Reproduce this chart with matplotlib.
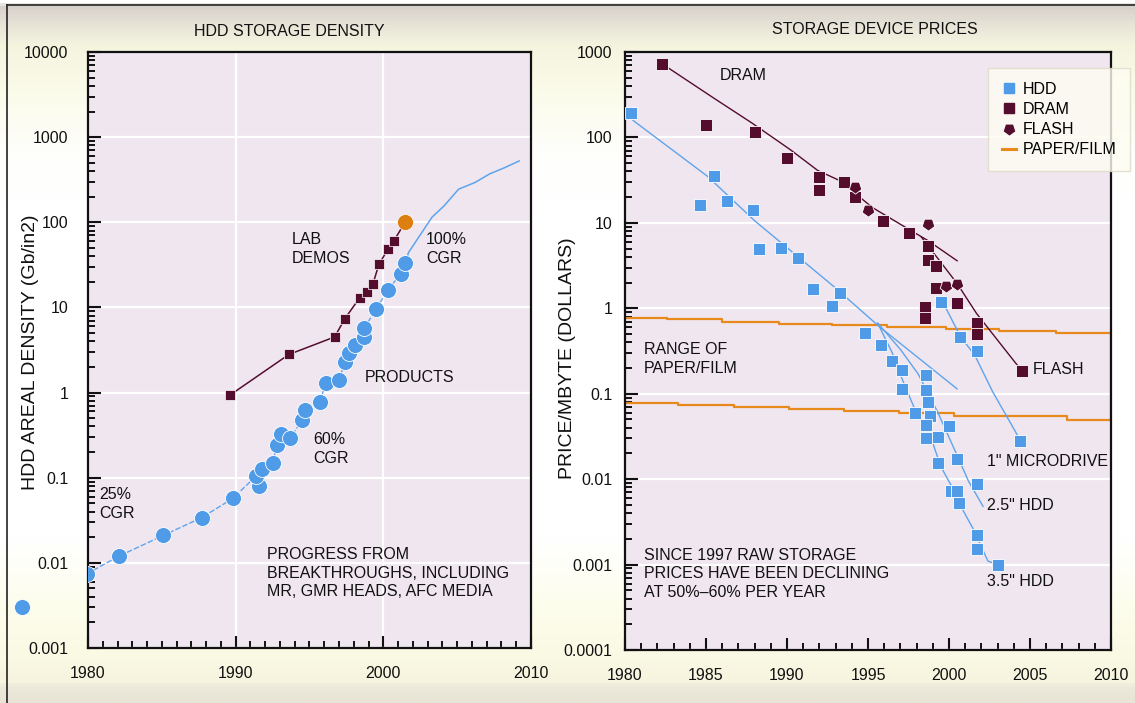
import numpy as np
import matplotlib
matplotlib.use("Agg")
import matplotlib.pyplot as plt
from matplotlib import font_manager as fm
from matplotlib.ticker import FixedLocator, NullFormatter, LogLocator
from matplotlib.colors import LinearSegmentedColormap
from matplotlib.lines import Line2D

# ---------------- data: left panel (HDD storage density) ----------------
prod_year = [1979.9, 1982.1, 1985.1, 1987.7, 1989.8, 1991.6, 1991.4, 1991.8, 1992.5,
             1992.8, 1993.1, 1993.7, 1994.5, 1994.7, 1995.7, 1996.1, 1997.0, 1997.4,
             1997.7, 1998.1, 1998.7, 1998.7, 1999.5, 2000.3, 2001.2, 2001.5]
prod_val = [0.0074, 0.012, 0.021, 0.034, 0.057, 0.079, 0.105, 0.126, 0.15,
            0.24, 0.33, 0.29, 0.48, 0.62, 0.77, 1.3, 1.4, 2.3,
            2.9, 3.6, 4.5, 5.7, 9.5, 16, 25, 33]
proj_year = [2001.5, 2001.7, 2003.3, 2004.1, 2005.1, 2006.2, 2007.2, 2008.2, 2009.2]
proj_val = [33, 44, 115, 155, 245, 293, 370, 437, 525]
early_year = [1975.5]
early_val = [0.0030]
lab_year = [1989.6, 1993.6, 1996.7, 1997.4, 1998.4, 1998.9, 1999.3, 1999.7, 2000.3, 2000.7]
lab_val = [0.93, 2.8, 4.5, 7.4, 13, 15, 19, 32, 48, 60]
lab_best_year = [2001.5]
lab_best_val = [102]

# ---------------- data: right panel (storage device prices) ----------------
hdd_year = [1980.4, 1984.6, 1985.5, 1986.3, 1987.9, 1988.3, 1989.6, 1990.7, 1991.6,
            1992.8, 1993.3, 1994.8, 1995.8, 1999.5, 2000.7, 2001.7,
            1996.5, 1997.1, 1997.1, 1997.9, 1998.6, 1998.6, 1998.7, 1998.8, 1998.6,
            1998.6, 1999.3, 1999.3, 2000.0, 2000.1, 2000.5, 2000.6, 2000.5, 2001.7,
            2001.7, 2001.7, 2003.0, 2004.4]
hdd_val = [192, 16, 35, 18, 14, 4.9, 5.1, 3.9, 1.66,
           1.07, 1.5, 0.51, 0.37, 1.2, 0.46, 0.32,
           0.24, 0.19, 0.114, 0.059, 0.166, 0.11, 0.080, 0.055, 0.043,
           0.030, 0.031, 0.0155, 0.042, 0.0072, 0.0072, 0.0052, 0.017, 0.0087,
           0.0022, 0.00154, 0.0010, 0.028]
dram_year = [1982.3, 1985.0, 1988.0, 1990.0, 1992.0, 1992.0, 1993.5, 1994.2, 1995.9,
             1997.5, 1998.7, 1998.7, 1999.2, 1999.2, 1998.5, 1998.5, 2000.5, 2001.7,
             2001.7, 2004.5]
dram_val = [718, 138, 116, 57, 34, 24, 30, 20, 10.6,
            7.7, 5.3, 3.7, 3.1, 1.74, 1.03, 0.76, 1.14, 0.68,
            0.50, 0.186]
flash_year = [1994.2, 1995.0, 1998.7, 1999.8, 2000.5]
flash_val = [26, 14, 9.6, 1.8, 1.9]

hdd_trend_year = [1980.5, 1985.1, 1988.0, 1992.9, 1995.7, 2000.5]
hdd_trend_val = [158, 35, 10.6, 1.79, 0.61, 0.114]
hdd35_year = [1995.6, 1996.5, 1997.1, 1997.9, 1998.9, 1999.5, 2000.2, 2000.9, 2001.5, 2002.4, 2003.0]
hdd35_val = [0.67, 0.30, 0.15, 0.065, 0.03, 0.014, 0.008, 0.0042, 0.0026, 0.0011, 0.0010]
hdd25_year = [1995.6, 1997.0, 1998.1, 1999.3, 2000.5, 2001.2, 2002.1]
hdd25_val = [0.67, 0.33, 0.17, 0.061, 0.019, 0.0095, 0.0048]
micro_year = [1999.6, 2000.7, 2001.6, 2002.7, 2004.1, 2004.4]
micro_val = [1.2, 0.47, 0.28, 0.105, 0.036, 0.028]
dram_trend_year = [1982.6, 1985.5, 1987.8, 1990.2, 1991.9, 1993.2, 1995.3, 1997.3, 1998.7, 2000.5]
dram_trend_val = [665, 287, 149, 72, 41, 31.6, 15, 8.9, 6.2, 3.6]
flash_trend_year = [1998.3, 2000.5, 2001.7, 2004.1, 2004.5]
flash_trend_val = [6.8, 1.95, 0.87, 0.23, 0.186]

paper_hi_year = [1980, 1982.6, 1986.0, 1989.5, 1992.8, 1996.2, 1999.8, 2003.1, 2006.6, 2010]
paper_hi_val = [0.78, 0.74, 0.70, 0.66, 0.64, 0.61, 0.57, 0.54, 0.51, 0.51]
paper_lo_year = [1980, 1983.3, 1986.7, 1990.1, 1993.5, 1996.9, 2000.3, 2007.3, 2010]
paper_lo_val = [0.077, 0.074, 0.069, 0.066, 0.062, 0.059, 0.055, 0.0495, 0.0495]

left_xticks = [1980, 1990, 2000, 2010]
left_yticks = [0.001, 0.01, 0.1, 1, 10, 100, 1000, 10000]
left_ylabels = ["0.001", "0.01", "0.1", "1", "10", "100", "1000", "10000"]
right_xticks = [1980, 1985, 1990, 1995, 2000, 2005, 2010]
right_yticks = [0.0001, 0.001, 0.01, 0.1, 1, 10, 100, 1000]
right_ylabels = ["0.0001", "0.001", "0.01", "0.1", "1", "10", "100", "1000"]

# ---------------- styling ----------------
def available(f):
    try:
        fm.findfont(fm.FontProperties(family=f), fallback_to_default=False)
        return True
    except Exception:
        return False

if available("Liberation Sans Narrow"):
    FONT, FS = "Liberation Sans Narrow", 13
elif available("Liberation Sans"):
    FONT, FS = "Liberation Sans", 11.5
else:
    FONT, FS = "DejaVu Sans", 10.5
LABEL_FONT = "Liberation Sans" if available("Liberation Sans") else "DejaVu Sans"
plt.rcParams["font.family"] = [FONT, "DejaVu Sans"]

BLUE = "#4f9be8"
BLUE_LINE = "#5ea4ec"
MAROON = "#540d2c"
ORANGE = "#e8891c"
ORANGE_DOT = "#dd7f10"
FACE = "#f0e6f0"
TXT = "#111111"

W, H = 1135, 703
fig = plt.figure(figsize=(W / 100, H / 100), dpi=100)

# background gradient
stops = [(0, "#ffffff"), (5, "#d6d0ca"), (12, "#ddd8d0"), (28, "#ebe8da"),
         (45, "#f5f4df"), (90, "#fbfbea"), (150, "#fefefb"), (200, "#ffffff"),
         (540, "#ffffff"), (610, "#fdfdec"), (660, "#faf9e3"), (684, "#f6f4de"),
         (690, "#ece8da"), (703, "#e9e5d6")]
cmap = LinearSegmentedColormap.from_list("bg", [(p / H, c) for p, c in stops])
bg = fig.add_axes([0, 0, 1, 1], zorder=-10)
bg.imshow(np.linspace(0, 1, 703).reshape(-1, 1), cmap=cmap, aspect="auto",
          extent=[0, 1, 0, 1], vmin=0, vmax=1, interpolation="bilinear")
bg.set_xlim(0, 1)
bg.set_ylim(0, 1)
bg.axis("off")
bg.plot([7 / W, 1], [1 - 5 / H] * 2, color="#222222", lw=1.2, transform=fig.transFigure)
bg.plot([7 / W, 7 / W], [0, 1 - 5 / H], color="#222222", lw=1.2, transform=fig.transFigure)


def ax_rect(x0, y0, x1, y1):
    return [x0 / W, 1 - y1 / H, (x1 - x0) / W, (y1 - y0) / H]


def ftext(x, y, s, **kw):
    kw.setdefault("fontsize", FS)
    kw.setdefault("va", "center")
    kw.setdefault("ha", "left")
    kw.setdefault("linespacing", 21 / (FS * 100 / 72))
    fig.text(x / W, 1 - y / H, s, color=TXT, **kw)


def style_axes(ax, xticks, yticks, ylabels, xminor, ypad, xpad, vgrid):
    ax.set_facecolor(FACE)
    ax.set_yscale("log")
    for sp in ax.spines.values():
        sp.set_linewidth(1.6)
        sp.set_color(TXT)
    ax.xaxis.set_major_locator(FixedLocator(xticks))
    ax.set_xticklabels([str(t) for t in xticks])
    ax.xaxis.set_minor_locator(FixedLocator(xminor))
    ax.yaxis.set_major_locator(FixedLocator(yticks))
    ax.set_yticklabels(ylabels)
    ax.yaxis.set_minor_locator(LogLocator(base=10, subs=np.arange(2, 10), numticks=20))
    ax.yaxis.set_minor_formatter(NullFormatter())
    ax.tick_params(axis="both", which="major", direction="in", length=9, width=1.5,
                   labelsize=FS, colors=TXT)
    ax.tick_params(axis="both", which="minor", direction="in", length=5, width=1.3)
    ax.tick_params(axis="y", which="both", right=False, pad=ypad)
    ax.tick_params(axis="x", which="both", top=False, pad=xpad)
    ax.grid(True, which="major", axis="y", color="white", lw=1.6)
    if vgrid:
        ax.grid(True, which="major", axis="x", color="white", lw=1.6)
    ax.set_axisbelow(True)


# ---------------- left panel ----------------
axL = fig.add_axes(ax_rect(88, 52, 531, 648))
style_axes(axL, left_xticks, left_yticks, left_ylabels,
           list(range(1980, 2011)), 14, 13, True)
axL.set_xlim(1980, 2010)
axL.set_ylim(0.001, 10000)

order = np.argsort(prod_year)
axL.plot(np.array(prod_year)[order], np.array(prod_val)[order], color=BLUE_LINE, lw=1.0,
         ls=(0, (4, 1.5)), zorder=2)
axL.plot(proj_year, proj_val, color=BLUE_LINE, lw=1.1, zorder=2)
axL.plot(prod_year, prod_val, "o", color=BLUE, ms=11.5, mec="white", mew=0.6, zorder=3)
axL.plot(early_year, early_val, "o", color=BLUE, ms=11.5, mec="white", mew=0.6,
         zorder=3, clip_on=False)
axL.plot(lab_year + lab_best_year, lab_val + lab_best_val, color=MAROON, lw=1.1, zorder=2)
axL.plot(lab_year, lab_val, "s", color=MAROON, ms=7.5, mec="white", mew=0.5, zorder=4)
axL.plot(lab_best_year, lab_best_val, "o", color=ORANGE_DOT, ms=11.5, mec="white",
         mew=0.5, zorder=4)
axL.set_ylabel("HDD AREAL DENSITY (Gb/in2)", fontsize=14, family=LABEL_FONT, color=TXT)
axL.yaxis.set_label_coords((39 - 88) / (531 - 88), 1 - (352 - 52) / 596)

ftext(289, 32, "HDD STORAGE DENSITY", ha="center")
ftext(292, 249, "LAB\nDEMOS")
ftext(426, 249, "100%\nCGR")
ftext(365, 378, "PRODUCTS")
ftext(313, 449, "60%\nCGR")
ftext(99, 504, "25%\nCGR")
ftext(267, 573, "PROGRESS FROM\nBREAKTHROUGHS, INCLUDING\nMR, GMR HEADS, AFC MEDIA")

# ---------------- right panel ----------------
axR = fig.add_axes(ax_rect(625, 52, 1111, 650))
style_axes(axR, right_xticks, right_yticks, right_ylabels,
           list(range(1980, 2011)), 9, 13, False)
axR.set_xlim(1980, 2010)
axR.set_ylim(0.0001, 1000)

axR.step(paper_hi_year, paper_hi_val, where="post", color=ORANGE, lw=1.6, zorder=2)
axR.step(paper_lo_year, paper_lo_val, where="post", color=ORANGE, lw=1.6, zorder=2)
axR.plot([paper_hi_year[-1], paper_lo_year[-1]], [paper_hi_val[-1], paper_lo_val[-1]],
         color=ORANGE, lw=1.6, zorder=2)
for yrs, vals in [(hdd_trend_year, hdd_trend_val), (hdd35_year, hdd35_val),
                  (hdd25_year, hdd25_val), (micro_year, micro_val)]:
    axR.plot(yrs, vals, color=BLUE_LINE, lw=1.0, zorder=2)
axR.plot(dram_trend_year, dram_trend_val, color=MAROON, lw=1.0, zorder=2)
axR.plot(flash_trend_year, flash_trend_val, color=MAROON, lw=1.0, zorder=2)
axR.plot(hdd_year, hdd_val, "s", color=BLUE, ms=8.5, mec="white", mew=0.6, zorder=3)
axR.plot(dram_year, dram_val, "s", color=MAROON, ms=8.5, mec="white", mew=0.6, zorder=4)
axR.plot(flash_year, flash_val, marker=(5, 0, 180), ls="none", color=MAROON, ms=9.5,
         mec="white", mew=0.6, zorder=4)
axR.set_ylabel("PRICE/MBYTE (DOLLARS)", fontsize=14, family=LABEL_FONT, color=TXT)
axR.yaxis.set_label_coords((576 - 625) / (1111 - 625), 1 - (358 - 52) / 598)

ftext(875, 30, "STORAGE DEVICE PRICES", ha="center")
ftext(720, 76, "DRAM")
ftext(644, 359, "RANGE OF\nPAPER/FILM")
ftext(1033, 369, "FLASH")
ftext(987, 461, "1\" MICRODRIVE")
ftext(987, 505, "2.5\" HDD")
ftext(987, 582, "3.5\" HDD")
ftext(644, 574, "SINCE 1997 RAW STORAGE\nPRICES HAVE BEEN DECLINING\nAT 50%\u201360% PER YEAR")

handles = [
    Line2D([], [], marker="s", ls="none", color=BLUE, ms=7),
    Line2D([], [], marker="s", ls="none", color=MAROON, ms=7),
    Line2D([], [], marker=(5, 0, 180), ls="none", color=MAROON, ms=7.5),
    Line2D([], [], color=ORANGE, lw=2.2),
]
leg = fig.legend(handles, ["HDD", "DRAM", "FLASH", "PAPER/FILM"],
                 loc="upper left", bbox_to_anchor=(988 / W, 1 - 68 / H),
                 bbox_transform=fig.transFigure, fontsize=FS, frameon=True,
                 fancybox=False, shadow=False, handlelength=0.9, handletextpad=0.4,
                 labelspacing=0.33, borderpad=0.85, borderaxespad=0)
leg.get_frame().set_facecolor("#fdfdf2")
leg.get_frame().set_edgecolor("#dedbc8")
leg.get_frame().set_linewidth(1.0)
leg.set_zorder(10)

fig.savefig("out.png", dpi=100)
